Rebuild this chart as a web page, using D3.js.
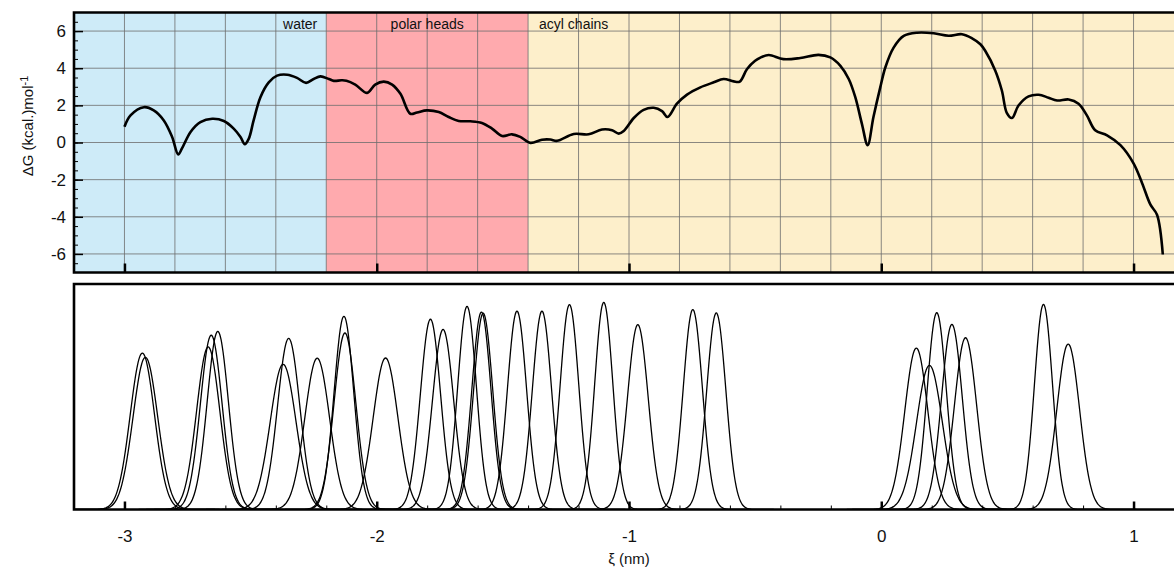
<!DOCTYPE html>
<html>
<head>
<meta charset="utf-8">
<script src="https://cdn.jsdelivr.net/npm/d3@7"></script>
<style>
  body { margin: 0; background: #fff; }
  text { font-family: "Liberation Sans", Arial, Helvetica, sans-serif; fill: #111; }
</style>
</head>
<body>
<script>
// Free energy profile (xi in nm, dG in kcal/mol)
var xi = [-3.00, -2.976, -2.923, -2.884, -2.844, -2.811, -2.787, -2.772, -2.738, -2.699,
  -2.652, -2.606, -2.567, -2.540, -2.523, -2.507, -2.488, -2.461, -2.428, -2.395,
  -2.355, -2.316, -2.280, -2.250, -2.223, -2.190, -2.170, -2.140, -2.120, -2.085,
  -2.038, -2.006, -1.972, -1.939, -1.906, -1.867, -1.840, -1.801, -1.754, -1.715,
  -1.675, -1.629, -1.583, -1.543, -1.503, -1.464, -1.431, -1.391, -1.345, -1.312,
  -1.285, -1.219, -1.160, -1.107, -1.067, -1.041, -1.021, -0.981, -0.942, -0.902,
  -0.869, -0.847, -0.810, -0.770, -0.717, -0.664, -0.625, -0.585, -0.561, -0.532,
  -0.500, -0.479, -0.446, -0.388, -0.321, -0.249, -0.202, -0.162, -0.129, -0.103,
  -0.077, -0.054, -0.031, -0.004, 0.016, 0.049, 0.089, 0.142, 0.208, 0.267,
  0.320, 0.360, 0.393, 0.412, 0.452, 0.478, 0.498, 0.518, 0.544, 0.584,
  0.624, 0.663, 0.697, 0.743, 0.782, 0.815, 0.848, 0.895, 0.948, 1.000,
  1.034, 1.067, 1.093, 1.116];
var dG = [0.85, 1.46, 1.90, 1.73, 1.19, 0.30, -0.64, -0.32, 0.57, 1.10,
  1.28, 1.16, 0.75, 0.30, -0.09, 0.21, 1.19, 2.44, 3.24, 3.60,
  3.65, 3.48, 3.21, 3.42, 3.56, 3.42, 3.32, 3.35, 3.33, 3.12,
  2.67, 3.12, 3.28, 3.12, 2.62, 1.55, 1.62, 1.73, 1.64, 1.37,
  1.16, 1.14, 1.05, 0.75, 0.35, 0.44, 0.30, -0.02, 0.15, 0.16,
  0.09, 0.46, 0.44, 0.70, 0.66, 0.48, 0.62, 1.32, 1.76, 1.87,
  1.69, 1.37, 2.09, 2.58, 2.97, 3.24, 3.42, 3.29, 3.28, 3.96,
  4.40, 4.57, 4.71, 4.49, 4.55, 4.72, 4.58, 4.13, 3.42, 2.44,
  1.02, -0.14, 1.37, 2.97, 4.04, 5.11, 5.74, 5.91, 5.88, 5.75,
  5.83, 5.61, 5.29, 4.94, 3.87, 2.80, 1.58, 1.32, 1.99, 2.48,
  2.57, 2.41, 2.26, 2.32, 2.09, 1.46, 0.66, 0.39, -0.14, -1.12,
  -2.19, -3.35, -3.89, -6.03];

// Umbrella sampling windows: centre (nm), peak height (a.u.), width sigma (nm)
var winCenter = [-2.929, -2.917, -2.656, -2.668, -2.630, -2.349, -2.371, -2.236, -2.130, -2.126,
  -1.965, -1.787, -1.737, -1.642, -1.585, -1.578, -1.444, -1.345, -1.236, -1.100,
  -0.965, -0.747, -0.654, 0.139, 0.191, 0.220, 0.280, 0.334, 0.643, 0.741];
var winHeight = [0.695, 0.676, 0.774, 0.722, 0.791, 0.760, 0.645, 0.672, 0.858, 0.784,
  0.673, 0.845, 0.800, 0.902, 0.877, 0.872, 0.881, 0.881, 0.910, 0.920,
  0.821, 0.888, 0.873, 0.717, 0.640, 0.874, 0.822, 0.763, 0.911, 0.735];
var winSigma = [0.048, 0.049, 0.043, 0.046, 0.042, 0.044, 0.051, 0.049, 0.039, 0.043,
  0.049, 0.040, 0.042, 0.037, 0.038, 0.038, 0.038, 0.038, 0.037, 0.036,
  0.041, 0.038, 0.038, 0.046, 0.051, 0.038, 0.041, 0.044, 0.036, 0.045];

// Regions along the membrane normal
var regionNames = ["water", "polar heads", "acyl chains"];
var regionEdges = [-3.2, -2.2, -1.4, 1.2];

// Tick labels
var xTickLabels = [-3, -2, -1, 0, 1];
var yTickLabels = [-6, -4, -2, 0, 2, 4, 6];

window.onload = function(){

  var w = 1174, h = 569;
  var regionColors = ["#ceebf8", "#ffaaae", "#fdefcb"];

  var svg = d3.select("body")
    .append("svg")
    .attr("width", w)
    .attr("height", h);

  // shared x scale, panel runs a bit past the right edge of the window
  var x = d3.scaleLinear().domain([-3.2, 1.2]).range([74, 1184]);
  var yTop = d3.scaleLinear().domain([-7, 7]).range([272.5, 12.5]);
  var yBot = d3.scaleLinear().domain([0, 1]).range([509.5, 284]);

  // plain hyphen minus like the original
  var plain = function(d){ return String(d); };

  // ---------- top panel ----------
  var top = svg.append("g").attr("class", "top");

  top.selectAll("rect.region")
    .data(regionNames)
    .enter().append("rect")
    .attr("class", "region")
    .attr("x", function(d, i){ return x(regionEdges[i]); })
    .attr("width", function(d, i){ return x(regionEdges[i + 1]) - x(regionEdges[i]); })
    .attr("y", yTop(7))
    .attr("height", yTop(-7) - yTop(7))
    .style("fill", function(d, i){ return regionColors[i]; });

  // grid every 0.2 nm and every 2 kcal/mol
  var vGrid = d3.range(-15, 7).map(function(k){ return k / 5; });
  top.selectAll("line.vgrid")
    .data(vGrid)
    .enter().append("line")
    .attr("x1", function(d){ return x(d); })
    .attr("x2", function(d){ return x(d); })
    .attr("y1", yTop(7))
    .attr("y2", yTop(-7))
    .style("stroke", "#6e6e6e")
    .style("stroke-width", 1)
    .style("opacity", 0.8);

  top.selectAll("line.hgrid")
    .data(yTickLabels)
    .enter().append("line")
    .attr("x1", x(-3.2))
    .attr("x2", w)
    .attr("y1", function(d){ return yTop(d); })
    .attr("y2", function(d){ return yTop(d); })
    .style("stroke", "#6e6e6e")
    .style("stroke-width", 1)
    .style("opacity", 0.8);

  // region names
  top.selectAll("text.region")
    .data(regionNames)
    .enter().append("text")
    .attr("x", function(d, i){
      if (i === 0) return x(regionEdges[1]) - 9;
      if (i === 1) return (x(regionEdges[1]) + x(regionEdges[2])) / 2;
      return x(regionEdges[2]) + 11;
    })
    .attr("y", 29)
    .attr("text-anchor", function(d, i){ return ["end", "middle", "start"][i]; })
    .style("font-size", "14px")
    .text(function(d){ return d; });

  // free energy curve
  var profile = xi.map(function(d, i){ return [d, dG[i]]; });
  top.append("path")
    .datum(profile)
    .attr("d", d3.line()
      .x(function(d){ return x(d[0]); })
      .y(function(d){ return yTop(d[1]); })
      .curve(d3.curveCatmullRom.alpha(0.5)))
    .style("fill", "none")
    .style("stroke", "#000")
    .style("stroke-width", 2.6)
    .style("stroke-linejoin", "round");

  // left axis: majors with labels, minors every 0.5
  var yAxis = top.append("g")
    .attr("transform", "translate(" + x(-3.2) + ",0)")
    .call(d3.axisLeft(yTop).tickValues(yTickLabels).tickSize(-9).tickSizeOuter(0)
      .tickPadding(8).tickFormat(plain));
  yAxis.selectAll("text").style("font-size", "17px").style("font-family", "Liberation Sans, Arial, sans-serif");
  yAxis.selectAll("line").style("stroke-width", 1.5);
  yAxis.select(".domain").remove();

  var yMinor = top.append("g")
    .attr("transform", "translate(" + x(-3.2) + ",0)")
    .call(d3.axisLeft(yTop).tickValues(d3.range(-13, 14).map(function(k){ return k / 2; }))
      .tickSize(-4).tickSizeOuter(0).tickFormat(""));
  yMinor.select(".domain").remove();

  var xTopAxis = top.append("g")
    .attr("transform", "translate(0," + yTop(-7) + ")")
    .call(d3.axisBottom(x).tickValues(xTickLabels).tickSize(-9).tickSizeOuter(0).tickFormat(""));
  xTopAxis.selectAll("line").style("stroke-width", 2.5);
  xTopAxis.select(".domain").remove();

  // frame
  top.append("path")
    .attr("d", "M" + w + "," + yTop(7) + "H" + x(-3.2) + "V" + yTop(-7) + "H" + w)
    .style("fill", "none")
    .style("stroke", "#000")
    .style("stroke-width", 2.6);

  // ---------- bottom panel: window histograms ----------
  var bot = svg.append("g").attr("class", "bottom");

  bot.append("clipPath").attr("id", "botclip")
    .append("rect")
    .attr("x", x(-3.2)).attr("y", yBot(1))
    .attr("width", w - x(-3.2)).attr("height", yBot(0) - yBot(1));

  var gauss = d3.line()
    .x(function(d){ return x(d[0]); })
    .y(function(d){ return yBot(d[1]); })
    .curve(d3.curveBasis);

  bot.append("g")
    .attr("clip-path", "url(#botclip)")
    .selectAll("path")
    .data(winCenter)
    .enter().append("path")
    .attr("d", function(c, i){
      var s = winSigma[i], a = winHeight[i];
      var pts = d3.range(-60, 61).map(function(k){
        var t = k / 10;
        return [c + t * s, a * Math.exp(-t * t / 2)];
      });
      return gauss(pts);
    })
    .style("fill", "none")
    .style("stroke", "#000")
    .style("stroke-width", 1.3);

  var xAxis = bot.append("g")
    .attr("transform", "translate(0," + yBot(0) + ")")
    .call(d3.axisBottom(x).tickValues(xTickLabels).tickSize(-8).tickSizeOuter(0)
      .tickPadding(20).tickFormat(plain));
  xAxis.selectAll("text").style("font-size", "17px").style("font-family", "Liberation Sans, Arial, sans-serif");
  xAxis.selectAll("line").style("stroke-width", 2.5);
  xAxis.select(".domain").remove();

  var xMinor = bot.append("g")
    .attr("transform", "translate(0," + yBot(0) + ")")
    .call(d3.axisBottom(x).tickValues(d3.range(-15, 7).map(function(k){ return k / 5; }))
      .tickSize(-4).tickSizeOuter(0).tickFormat(""));
  xMinor.select(".domain").remove();

  bot.append("path")
    .attr("d", "M" + w + "," + yBot(1) + "H" + x(-3.2) + "V" + yBot(0) + "H" + w)
    .style("fill", "none")
    .style("stroke", "#000")
    .style("stroke-width", 2.6);

  // axis titles
  svg.append("text")
    .attr("x", (x(-3.2) + x(1.2)) / 2)
    .attr("y", 564)
    .attr("text-anchor", "middle")
    .style("font-size", "15px")
    .text("ξ (nm)");

  var yTitle = svg.append("text")
    .attr("transform", "translate(33,126) rotate(-90)")
    .attr("text-anchor", "middle")
    .style("font-size", "15px");
  yTitle.append("tspan").text("ΔG (kcal.)mol");
  yTitle.append("tspan").attr("dy", "-0.45em").style("font-size", "11px").text("-1");
};
</script>
</body>
</html>
